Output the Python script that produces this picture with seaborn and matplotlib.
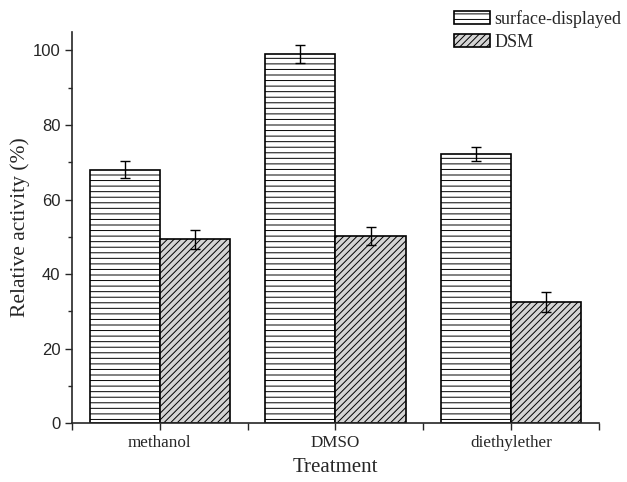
import pandas as pd
import numpy as np
import matplotlib
matplotlib.use('Agg')
import matplotlib.pyplot as plt
import matplotlib.patches as mpatches
from matplotlib.ticker import MultipleLocator, FixedLocator
import seaborn as sns

# Data
treatments = ['methanol', 'DMSO', 'diethylether']
surface_vals = [68.0, 99.0, 72.2]
surface_err = [2.3, 2.5, 1.8]
dsm_vals = [49.3, 50.3, 32.5]
dsm_err = [2.5, 2.4, 2.7]
series = ['surface-displayed', 'DSM']

df = pd.DataFrame({
    'Treatment': treatments * 2,
    'Group': [series[0]] * 3 + [series[1]] * 3,
    'Activity': surface_vals + dsm_vals,
    'Err': surface_err + dsm_err,
})

sns.set_style('ticks')
plt.rcParams['hatch.linewidth'] = 0.7
serif = ['Liberation Serif', 'DejaVu Serif']
sans = ['Liberation Sans', 'DejaVu Sans']

fig = plt.figure(figsize=(6.27, 4.82), dpi=100)
ax = fig.add_axes([0.115, 0.122, 0.84, 0.812])

sns.barplot(data=df, x='Treatment', y='Activity', hue='Group', order=treatments,
            hue_order=series, palette=['white', '#d4d4d4'], edgecolor='black',
            linewidth=1.2, width=0.8, errorbar=None, ax=ax)

styles = {series[0]: ('white', '---'), series[1]: ('#d4d4d4', '/////')}
for container, name in zip(ax.containers, series):
    fc, hatch = styles[name]
    sub = df[df['Group'] == name].set_index('Treatment').loc[treatments]
    xs = []
    for bar in container:
        bar.set_hatch(hatch)
        bar.set_facecolor(fc)
        xs.append(bar.get_x() + bar.get_width() / 2)
    ax.errorbar(xs, sub['Activity'], yerr=sub['Err'], fmt='none', ecolor='black',
                elinewidth=1.0, capsize=3.5, capthick=1.0, zorder=5)

if ax.get_legend() is not None:
    ax.get_legend().remove()

ax.set_xlim(-0.5, 2.5)
ax.set_ylim(0, 105)
ax.yaxis.set_major_locator(MultipleLocator(20))
ax.yaxis.set_minor_locator(MultipleLocator(10))
ax.xaxis.set_minor_locator(FixedLocator([-0.5, 0.5, 1.5, 2.5]))
ax.tick_params(axis='y', which='major', length=5, width=1, direction='out')
ax.tick_params(axis='y', which='minor', length=3, width=1, direction='out')
ax.tick_params(axis='x', which='both', length=5, width=1, direction='out')
sns.despine(ax=ax)
for s in ['left', 'bottom']:
    ax.spines[s].set_linewidth(1.2)

for lbl in ax.get_yticklabels():
    lbl.set_family(sans)
    lbl.set_fontsize(12)
for lbl in ax.get_xticklabels():
    lbl.set_family(serif)
    lbl.set_fontsize(12.3)

ax.set_xlabel('Treatment', family=serif, fontsize=15, labelpad=5)
ax.set_ylabel('Relative activity (%)', family=serif, fontsize=15.5, labelpad=2)

handles = [mpatches.Patch(facecolor=styles[n][0], edgecolor='black', hatch=styles[n][1],
                          linewidth=1.2, label=n) for n in series]
fig.legend(handles=handles, loc='upper right', bbox_to_anchor=(1.0, 0.99),
           frameon=False, prop={'family': serif, 'size': 13}, handlelength=2.0,
           handleheight=0.74, handletextpad=0.25, labelspacing=0.3, borderpad=0.1,
           borderaxespad=0.2)

fig.savefig('out.png', dpi=100)
